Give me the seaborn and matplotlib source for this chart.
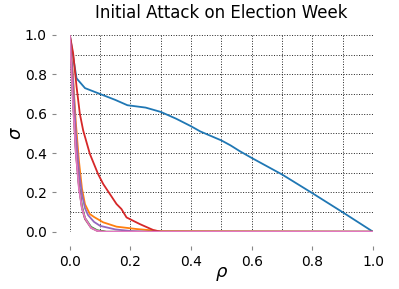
import numpy as np
import pandas as pd
import matplotlib
matplotlib.use('Agg')
import matplotlib.pyplot as plt
import seaborn as sns

# 数据
rho_blue = [0.0, 0.022, 0.05, 0.10, 0.15, 0.19, 0.25, 0.30, 0.35, 0.40, 0.43, 0.50, 0.53, 0.56, 0.60, 0.70, 0.80, 0.90, 1.0]
sig_blue = [1.0, 0.78, 0.73, 0.70, 0.67, 0.643, 0.631, 0.609, 0.575, 0.536, 0.51, 0.464, 0.439, 0.41, 0.375, 0.291, 0.196, 0.099, 0.0]

rho_orange = [0.0, 0.01, 0.02, 0.03, 0.04, 0.05, 0.066, 0.08, 0.11, 0.154, 0.22, 0.30, 1.0]
sig_orange = [1.0, 0.80, 0.55, 0.36, 0.22, 0.14, 0.09, 0.075, 0.048, 0.026, 0.014, 0.003, 0.0]

rho_green = [0.0, 0.01, 0.02, 0.03, 0.04, 0.05, 0.07, 0.09, 0.12, 1.0]
sig_green = [1.0, 0.70, 0.42, 0.24, 0.13, 0.07, 0.025, 0.008, 0.0, 0.0]

rho_red = [0.0, 0.011, 0.022, 0.033, 0.044, 0.066, 0.093, 0.11, 0.132, 0.154, 0.17, 0.187, 0.21, 0.231, 0.275, 0.30, 1.0]
sig_red = [1.0, 0.906, 0.74, 0.60, 0.515, 0.396, 0.294, 0.243, 0.192, 0.141, 0.116, 0.073, 0.055, 0.039, 0.009, 0.0, 0.0]

rho_purple = [0.0, 0.01, 0.02, 0.03, 0.04, 0.05, 0.06, 0.08, 0.10, 0.15, 0.20, 0.25, 1.0]
sig_purple = [1.0, 0.78, 0.50, 0.31, 0.19, 0.12, 0.085, 0.05, 0.03, 0.012, 0.004, 0.0, 0.0]

rho_brown = [0.0, 0.01, 0.02, 0.03, 0.04, 0.05, 0.07, 0.09, 0.12, 1.0]
sig_brown = [1.0, 0.68, 0.40, 0.23, 0.12, 0.065, 0.02, 0.005, 0.0, 0.0]

rho_pink = [0.0, 0.01, 0.02, 0.03, 0.04, 0.05, 0.07, 0.09, 0.11, 1.0]
sig_pink = [1.0, 0.66, 0.40, 0.22, 0.12, 0.07, 0.02, 0.005, 0.0, 0.0]

series = [
    ('blue', rho_blue, sig_blue),
    ('orange', rho_orange, sig_orange),
    ('green', rho_green, sig_green),
    ('red', rho_red, sig_red),
    ('purple', rho_purple, sig_purple),
    ('brown', rho_brown, sig_brown),
    ('pink', rho_pink, sig_pink),
]

sns.set_style('ticks')
plt.rcParams['font.family'] = ['DejaVu Sans']
plt.rcParams['text.color'] = 'black'
plt.rcParams['axes.labelcolor'] = 'black'

fig, ax = plt.subplots(figsize=(3.99, 2.89), dpi=100)
palette = sns.color_palette('tab10')

for i, (name, x, y) in enumerate(series):
    df = pd.DataFrame({'rho': x, 'sigma': y})
    sns.lineplot(data=df, x='rho', y='sigma', ax=ax, color=palette[i],
                 linewidth=1.3, sort=False, estimator=None)

ax.set_xlim(0, 1)
ax.set_ylim(0, 1)
ax.set_xticks(np.arange(0, 1.01, 0.2))
ax.set_yticks(np.arange(0, 1.01, 0.2))
ax.set_xticks(np.arange(0, 1.01, 0.1), minor=True)
ax.set_yticks(np.arange(0, 1.01, 0.1), minor=True)
ax.tick_params(which='minor', length=0)
ax.tick_params(which='major', length=3, color='#888888', labelsize=10,
               labelcolor='black')
ax.grid(which='both', color='#222222', linestyle=':', linewidth=0.7)
ax.set_axisbelow(True)

# 坐标轴外移并隐藏轴线（保留刻度）
sns.despine(ax=ax, offset=10)
ax.spines['left'].set_visible(False)
ax.spines['bottom'].set_visible(False)

ax.set_xlabel(r'$\rho$', fontsize=13, labelpad=-3)
ax.set_ylabel(r'$\sigma$', fontsize=13, labelpad=0)
ax.set_title('Initial Attack on Election Week', fontsize=12, pad=12)

plt.subplots_adjust(left=0.175, right=0.935, top=0.879, bottom=0.198)
plt.savefig('out.png', dpi=100, facecolor='white')
